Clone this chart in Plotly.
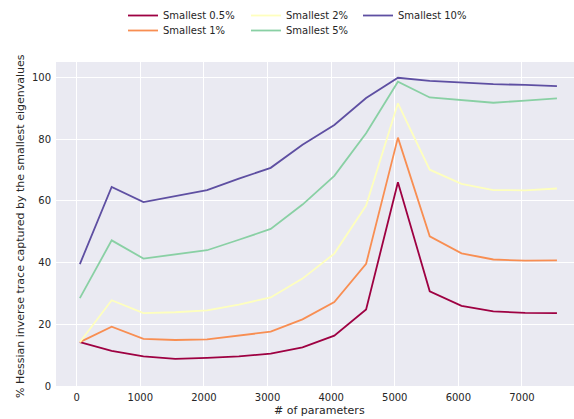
import plotly.graph_objects as go

# Model sizes (number of parameters) at which the spectrum was measured
params = [50, 550, 1050, 1550, 2050, 2550, 3050, 3550, 4050,
          4550, 5050, 5550, 6050, 6550, 7050, 7550]

# Share (%) of the inverse Hessian trace captured by the smallest eigenvalues
smallest_0_5 = [14.2, 11.4, 9.6, 8.8, 9.1, 9.6, 10.5, 12.5, 16.3,
                24.8, 66.0, 30.7, 26.0, 24.2, 23.7, 23.6]
smallest_1 = [14.2, 19.2, 15.3, 14.9, 15.1, 16.3, 17.6, 21.6, 27.2,
              39.6, 80.5, 48.5, 43.0, 41.0, 40.6, 40.7]
smallest_2 = [14.2, 27.8, 23.6, 23.9, 24.5, 26.4, 28.7, 34.8, 42.9,
              58.5, 91.6, 70.1, 65.5, 63.5, 63.4, 64.0]
smallest_5 = [28.5, 47.2, 41.3, 42.7, 44.0, 47.4, 50.9, 58.8, 68.1,
              81.9, 98.6, 93.5, 92.6, 91.8, 92.5, 93.2]
smallest_10 = [39.5, 64.5, 59.6, 61.6, 63.5, 67.2, 70.7, 78.2, 84.6,
               93.3, 99.9, 98.9, 98.4, 97.8, 97.6, 97.2]

series_names = ["Smallest 0.5%", "Smallest 1%", "Smallest 2%",
                "Smallest 5%", "Smallest 10%"]
series_values = [smallest_0_5, smallest_1, smallest_2, smallest_5, smallest_10]
series_colors = ["#9e0142", "#f88e52", "#feffbe", "#89d0a4", "#5e4fa2"]

x_ticks = [0, 1000, 2000, 3000, 4000, 5000, 6000, 7000]
y_ticks = [0, 20, 40, 60, 80, 100]

x_title = "# of parameters"
y_title = "% Hessian inverse trace captured by the smallest eigenvalues"

W, H = 574, 419
M_L, M_R, M_T, M_B = 56, 0, 62, 33
PLOT_W, PLOT_H = W - M_L - M_R, H - M_T - M_B
TEXT = "#262626"
FONT = "DejaVu Sans"

# Legend grid filled column by column, three columns
col_text_x = [163, 286, 398]
row_center_y = [11, 26]

fig = go.Figure()
legend_layouts = {}
for i, (name, vals, color) in enumerate(zip(series_names, series_values, series_colors)):
    key = "legend" if i == 0 else f"legend{i + 1}"
    col, row = i // 2, i % 2
    fig.add_trace(go.Scatter(
        x=params, y=vals, mode="lines", name=name,
        line=dict(color=color, width=1.8),
        legend=key,
    ))
    legend_layouts[key] = dict(
        xref="container", yref="container",
        x=(col_text_x[col] - 40) / W,
        y=1 - (row_center_y[row] - 10) / H,
        xanchor="left", yanchor="top",
        bgcolor="rgba(0,0,0,0)", borderwidth=0,
        font=dict(family=FONT, size=10, color=TEXT),
        itemwidth=30,
    )


def px_to_paper_x(px):
    return (px - M_L) / PLOT_W


def px_to_paper_y(py):
    return (H - M_B - py) / PLOT_H


fig.update_layout(
    width=W, height=H,
    margin=dict(l=M_L, r=M_R, t=M_T, b=M_B, autoexpand=False),
    paper_bgcolor="white",
    plot_bgcolor="#eaeaf2",
    font=dict(family=FONT, size=10, color=TEXT),
    showlegend=True,
    annotations=[
        dict(text=x_title, xref="paper", yref="paper",
             x=px_to_paper_x(319), y=px_to_paper_y(411),
             xanchor="center", yanchor="middle", showarrow=False,
             font=dict(family=FONT, size=11, color=TEXT)),
        dict(text=y_title, xref="paper", yref="paper",
             x=px_to_paper_x(20), y=px_to_paper_y(226),
             xanchor="center", yanchor="middle", showarrow=False,
             textangle=-90,
             font=dict(family=FONT, size=11, color=TEXT)),
    ],
    **legend_layouts,
)

fig.update_xaxes(
    range=[-325, 7818],
    tickvals=x_ticks,
    showgrid=True, gridcolor="white", gridwidth=1,
    zeroline=False, showline=False, ticks="",
    ticklabelstandoff=4,
    tickfont=dict(family=FONT, size=10, color=TEXT),
)
fig.update_yaxes(
    range=[0, 105],
    tickvals=y_ticks,
    showgrid=True, gridcolor="white", gridwidth=1,
    zeroline=False, showline=False, ticks="",
    ticklabelstandoff=4,
    tickfont=dict(family=FONT, size=10, color=TEXT),
)

fig.write_html("out.html")
